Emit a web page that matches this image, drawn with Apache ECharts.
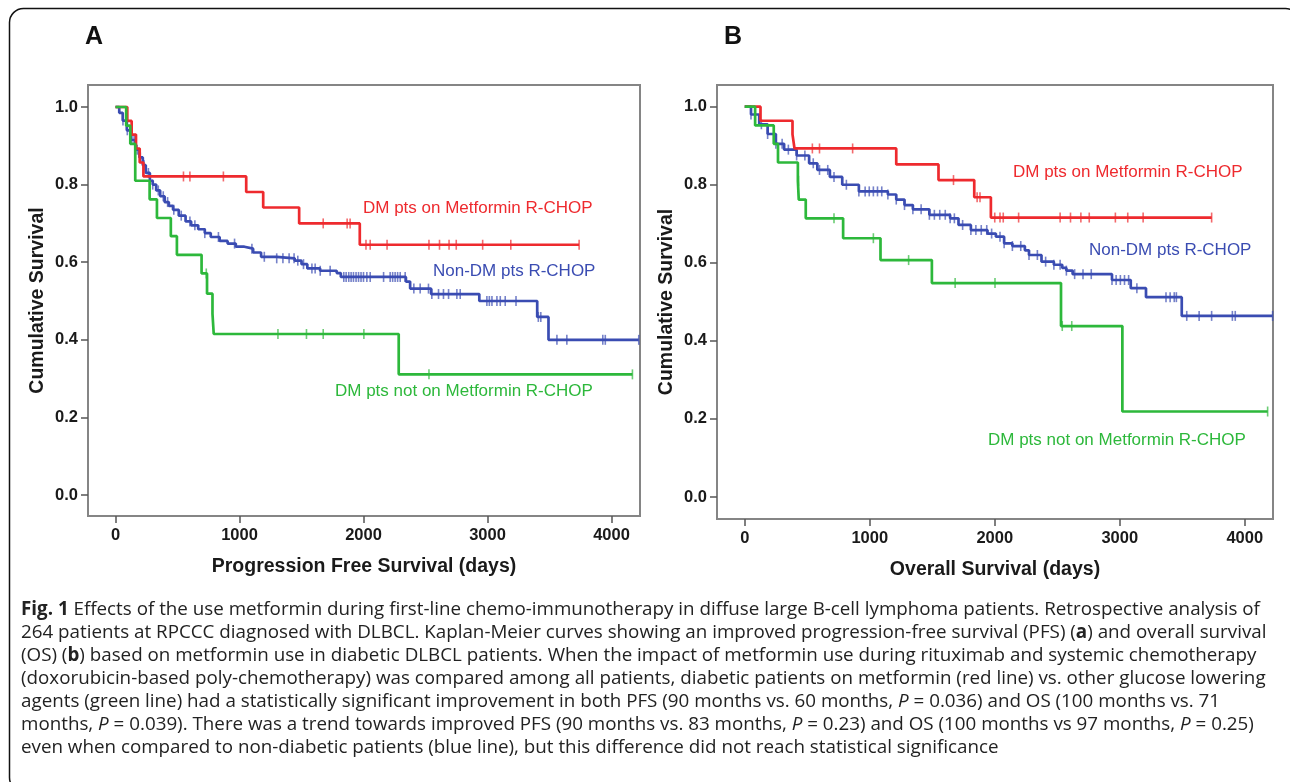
<!DOCTYPE html>
<html>
<head>
<meta charset="utf-8">
<script src="https://cdn.jsdelivr.net/npm/echarts@6/dist/echarts.min.js"></script>
<style>
  html, body { margin: 0; padding: 0; background: #fff; }
  #chart { width: 1290px; height: 782px; }
</style>
</head>
<body>
<div id="chart"></div>
<script>
// PFS (panel A) - step times (days) and survival after each step
const pfsRedT = [0, 95, 130, 165, 195, 225, 1054, 1191, 1481, 1970, 3739]
const pfsRedS = [1, 0.964, 0.929, 0.893, 0.857, 0.821, 0.781, 0.741, 0.700, 0.645, 0.645]
const pfsRedCens = [548, 600, 870, 1675, 1868, 1892, 2020, 2054, 2190, 2528, 2613, 2690, 2748, 2961, 3188, 3739]

const pfsGreenT = [0, 86, 119, 159, 275, 334, 446, 495, 694, 738, 782, 792, 2284, 4169]
const pfsGreenS = [1, 0.952, 0.905, 0.810, 0.762, 0.714, 0.667, 0.619, 0.571, 0.519, 0.467, 0.415, 0.311, 0.311]
const pfsGreenCens = [732, 1310, 1540, 1675, 2003, 2528, 4169]

const pfsBlueT = [0, 30, 58, 91, 125, 160, 193, 220, 244, 277, 300, 328, 360, 396, 430, 464, 510, 565, 610, 667, 720, 768, 840, 904, 970, 1039, 1110, 1174, 1300, 1445, 1500, 1547, 1650, 1784, 1817, 2342, 2376, 2545, 2934, 3401, 3492, 4220]
const pfsBlueS = [1, 0.985, 0.965, 0.94, 0.915, 0.89, 0.87, 0.85, 0.83, 0.81, 0.80, 0.785, 0.77, 0.755, 0.745, 0.735, 0.72, 0.705, 0.695, 0.685, 0.675, 0.665, 0.655, 0.648, 0.64, 0.635, 0.625, 0.614, 0.61, 0.604, 0.595, 0.584, 0.578, 0.572, 0.562, 0.55, 0.532, 0.518, 0.50, 0.459, 0.40, 0.40]
const pfsBlueCens = [60, 95, 130, 150, 175, 200, 230, 265, 300, 345, 385, 420, 470, 530, 600, 640, 720, 830, 960, 1100, 1200, 1300, 1350, 1400, 1440, 1470, 1516, 1584, 1610, 1651, 1731, 1841, 1860, 1881, 1900, 1919, 1940, 1960, 1980, 2000, 2027, 2054, 2162, 2215, 2235, 2255, 2275, 2296, 2336, 2406, 2457, 2524, 2551, 2605, 2645, 2686, 2753, 2780, 2995, 3015, 3036, 3076, 3103, 3143, 3230, 3410, 3430, 3560, 3640, 3930, 3950, 4220]

// OS (panel B)
const osRedT = [0, 126, 382, 398, 1212, 1550, 1836, 1969, 3735]
const osRedS = [1, 0.964, 0.929, 0.893, 0.852, 0.812, 0.768, 0.716, 0.716]
const osRedCens = [541, 598, 863, 1670, 1859, 1882, 2000, 2042, 2068, 2191, 2523, 2606, 2689, 2756, 2965, 3064, 3187, 3735]

const osGreenT = [0, 83, 232, 266, 425, 432, 488, 787, 1086, 1497, 2530, 3021, 4183]
const osGreenS = [1, 0.952, 0.905, 0.857, 0.810, 0.762, 0.714, 0.663, 0.607, 0.548, 0.438, 0.219, 0.219]
const osGreenCens = [430, 714, 1029, 1311, 1683, 2002, 2540, 2616, 4183]

const osBlueT = [0, 50, 116, 183, 249, 315, 415, 515, 581, 681, 780, 913, 1145, 1212, 1278, 1345, 1477, 1643, 1710, 1809, 1942, 2009, 2075, 2141, 2241, 2274, 2374, 2473, 2540, 2573, 2623, 2938, 3088, 3210, 3496, 4222]
const osBlueS = [1, 0.98, 0.955, 0.93, 0.905, 0.89, 0.875, 0.855, 0.838, 0.82, 0.80, 0.783, 0.775, 0.762, 0.748, 0.737, 0.723, 0.714, 0.697, 0.684, 0.675, 0.667, 0.65, 0.643, 0.632, 0.62, 0.603, 0.595, 0.587, 0.58, 0.571, 0.556, 0.535, 0.512, 0.464, 0.464]
const osBlueCens = [50, 83, 133, 183, 249, 299, 349, 415, 481, 548, 598, 664, 714, 813, 913, 963, 996, 1029, 1062, 1096, 1145, 1212, 1278, 1345, 1411, 1477, 1517, 1560, 1604, 1643, 1677, 1743, 1809, 1849, 1892, 1936, 1975, 2042, 2075, 2141, 2208, 2274, 2341, 2407, 2473, 2523, 2573, 2639, 2706, 2772, 2938, 2971, 3005, 3038, 3071, 3137, 3370, 3403, 3436, 3453, 3536, 3635, 3735, 3901, 3924, 4223]

const xTicks = [0, 1000, 2000, 3000, 4000]
const yTicks = [0, 0.2, 0.4, 0.6, 0.8, 1.0]

const RED = '#ee2a2e'
const GREEN = '#2db83b'
const BLUE = '#3a4cb2'

function toPairs(t, s) {
  return t.map((v, i) => [v, s[i]])
}

// censor marks sit on the curve value at that time
function censorPairs(t, s, cens) {
  return cens.map(c => {
    let k = 0
    for (let i = 0; i < t.length; i++) {
      if (t[i] <= c) k = i
    }
    return [c, s[k]]
  })
}

function kmSeries(idx, t, s, cens, color, z) {
  return [
    {
      type: 'line', xAxisIndex: idx, yAxisIndex: idx,
      data: toPairs(t, s), step: 'end', symbol: 'none', showSymbol: false,
      lineStyle: { color: color, width: 2.7 }, itemStyle: { color: color },
      silent: true, z: z
    },
    {
      type: 'scatter', xAxisIndex: idx, yAxisIndex: idx,
      data: censorPairs(t, s, cens), symbol: 'rect', symbolSize: [1.6, 10],
      itemStyle: { color: color, opacity: 0.7 }, silent: true, z: z
    }
  ]
}

const tickFont = { fontFamily: 'Liberation Sans, Arial, sans-serif', fontWeight: 'bold', fontSize: 16.5, color: '#1a1a1a' }
const nameFont = { fontFamily: 'Liberation Sans, Arial, sans-serif', fontWeight: 'bold', fontSize: 19.5, color: '#1a1a1a' }

function xAxisCfg(idx, name) {
  return {
    type: 'value', gridIndex: idx, min: -222, max: idx === 0 ? 4230 : 4226,
    name: name, nameLocation: 'middle', nameGap: 41, nameTextStyle: nameFont,
    axisLine: { show: true, onZero: false, lineStyle: { color: '#858585', width: 2 } },
    axisTick: { show: true, length: 7, customValues: xTicks, lineStyle: { color: '#555', width: 1.5 } },
    axisLabel: { customValues: xTicks, margin: 11, formatter: v => String(v), ...tickFont },
    splitLine: { show: false }
  }
}

function yAxisCfg(idx) {
  return {
    type: 'value', gridIndex: idx, min: idx === 0 ? -0.054 : -0.0564, max: idx === 0 ? 1.0567 : 1.0556,
    name: 'Cumulative Survival', nameLocation: 'middle', nameGap: 40, nameTextStyle: nameFont,
    axisLine: { show: true, onZero: false, lineStyle: { color: '#858585', width: 2 } },
    axisTick: { show: true, length: 7, customValues: yTicks, lineStyle: { color: '#555', width: 1.5 } },
    axisLabel: { customValues: yTicks, margin: 10, formatter: v => v.toFixed(1), ...tickFont },
    splitLine: { show: false }
  }
}

function label(text, x, y, color) {
  return {
    type: 'text', left: x, top: y - 10,
    style: { text: text, fill: color, fontFamily: 'Liberation Sans, Arial, sans-serif', fontSize: 17 }
  }
}

const captionLines = [
  '{b|Fig. 1} Effects of the use metformin during first-line chemo-immunotherapy in diffuse large B-cell lymphoma patients. Retrospective analysis of',
  '264 patients at RPCCC diagnosed with DLBCL. Kaplan-Meier curves showing an improved progression-free survival (PFS) ({b|a}) and overall survival',
  '(OS) ({b|b}) based on metformin use in diabetic DLBCL patients. When the impact of metformin use during rituximab and systemic chemotherapy',
  '(doxorubicin-based poly-chemotherapy) was compared among all patients, diabetic patients on metformin (red line) vs. other glucose lowering',
  'agents (green line) had a statistically significant improvement in both PFS (90 months vs. 60 months, {i|P} = 0.036) and OS (100 months vs. 71',
  'months, {i|P} = 0.039). There was a trend towards improved PFS (90 months vs. 83 months, {i|P} = 0.23) and OS (100 months vs 97 months, {i|P} = 0.25)',
  'even when compared to non-diabetic patients (blue line), but this difference did not reach statistical significance'
]

const capFont = { fontFamily: 'Open Sans, Noto Sans, sans-serif', fontSize: 18.8, lineHeight: 23, fill: '#222' }

const chart = echarts.init(document.getElementById('chart'), null, { renderer: 'canvas' })

chart.setOption({
  animation: false,
  backgroundColor: '#fff',
  grid: [
    { left: 88, top: 85, width: 552, height: 431, show: true, borderColor: '#858585', borderWidth: 2, backgroundColor: '#fff' },
    { left: 717, top: 85, width: 556, height: 434, show: true, borderColor: '#858585', borderWidth: 2, backgroundColor: '#fff' }
  ],
  xAxis: [xAxisCfg(0, 'Progression Free Survival (days)'), xAxisCfg(1, 'Overall Survival (days)')],
  yAxis: [yAxisCfg(0), yAxisCfg(1)],
  series: [
    ...kmSeries(0, pfsBlueT, pfsBlueS, pfsBlueCens, BLUE, 2),
    ...kmSeries(0, pfsRedT, pfsRedS, pfsRedCens, RED, 3),
    ...kmSeries(0, pfsGreenT, pfsGreenS, pfsGreenCens, GREEN, 4),
    ...kmSeries(1, osBlueT, osBlueS, osBlueCens, BLUE, 2),
    ...kmSeries(1, osRedT, osRedS, osRedCens, RED, 3),
    ...kmSeries(1, osGreenT, osGreenS, osGreenCens, GREEN, 4)
  ],
  graphic: [
    {
      type: 'rect', silent: true,
      shape: { x: 9.5, y: 8.5, width: 1290, height: 783, r: 14 },
      style: { fill: 'none', stroke: '#111', lineWidth: 1.5 }
    },
    { type: 'text', left: 85, top: 25, style: { text: 'A', fill: '#111', fontFamily: 'Liberation Sans, Arial, sans-serif', fontWeight: 'bold', fontSize: 25 } },
    { type: 'text', left: 724, top: 25, style: { text: 'B', fill: '#111', fontFamily: 'Liberation Sans, Arial, sans-serif', fontWeight: 'bold', fontSize: 25 } },
    label('DM pts on Metformin R-CHOP', 363, 210, RED),
    label('Non-DM pts R-CHOP', 433, 273, BLUE),
    label('DM pts not on Metformin R-CHOP', 335, 393, GREEN),
    label('DM pts on Metformin R-CHOP', 1013, 174, RED),
    label('Non-DM pts R-CHOP', 1089, 252, BLUE),
    label('DM pts not on Metformin R-CHOP', 988, 442, GREEN),
    {
      type: 'text', left: 21, top: 598,
      style: {
        text: captionLines.join('\n'),
        ...capFont,
        rich: {
          b: { ...capFont, fontWeight: 'bold' },
          i: { ...capFont, fontStyle: 'italic' }
        }
      }
    }
  ]
})
</script>
</body>
</html>
